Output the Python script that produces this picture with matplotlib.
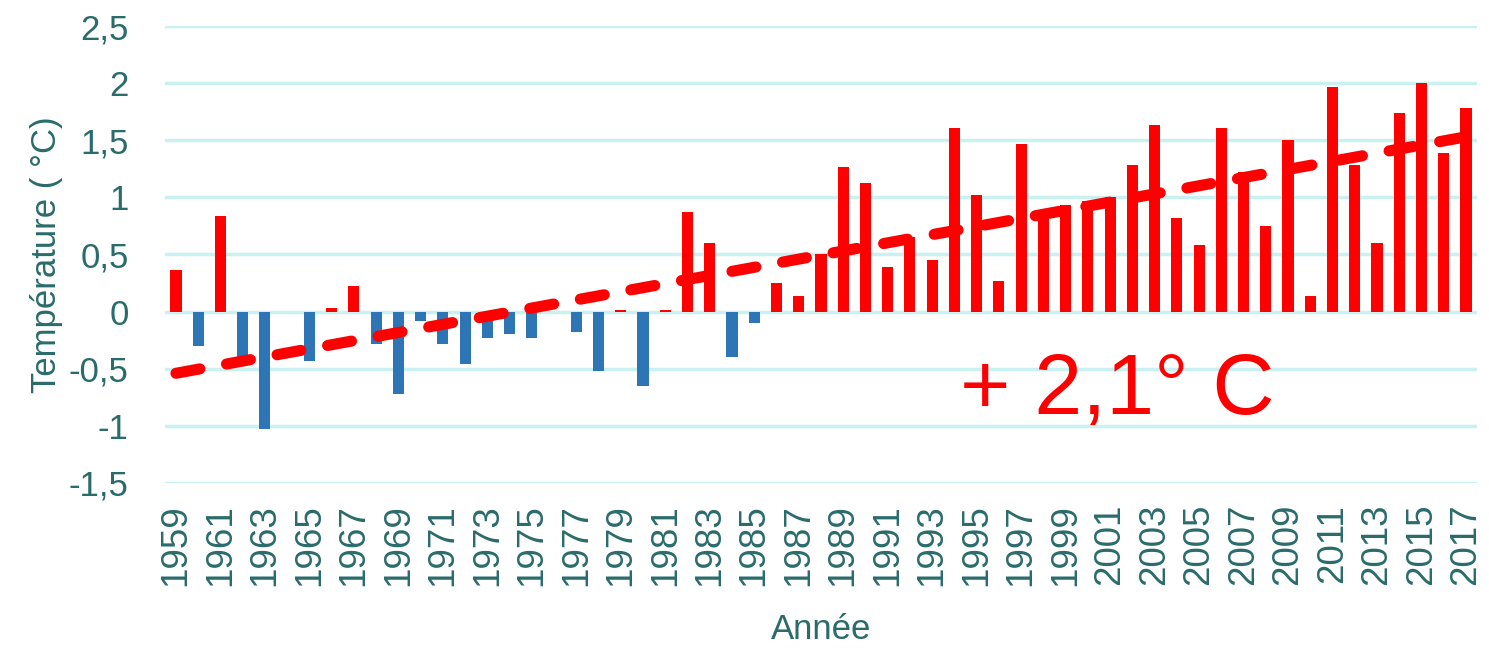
import numpy as np
import matplotlib
matplotlib.use("Agg")
import matplotlib.pyplot as plt

plt.rcParams['font.family'] = ['Liberation Sans', 'DejaVu Sans']
plt.rcParams['lines.scale_dashes'] = False

# anomalies de température (°C)
years = np.arange(1959, 2018)
anomalies = [
    0.36, -0.30, 0.84, -0.40, -1.03, 0.00, -0.43, 0.03, 0.22, -0.28,   # 1959-1968
    -0.72, -0.08, -0.28, -0.46, -0.23, -0.20, -0.23, 0.00, -0.18, -0.52,  # 1969-1978
    0.01, -0.65, 0.01, 0.87, 0.60, -0.40, -0.10, 0.25, 0.14, 0.50,     # 1979-1988
    1.27, 1.13, 0.39, 0.65, 0.45, 1.61, 1.02, 0.27, 1.47, 0.87,        # 1989-1998
    0.93, 0.97, 1.00, 1.28, 1.63, 0.82, 0.58, 1.61, 1.22, 0.75,        # 1999-2008
    1.50, 0.14, 1.97, 1.28, 0.60, 1.74, 2.00, 1.39, 1.78,              # 2009-2017
]
trend_years = [1959, 2017]
trend_values = [-0.54, 1.53]
yticks = [-1.5, -1, -0.5, 0, 0.5, 1, 1.5, 2, 2.5]
ytick_labels = ['-1,5', '-1', '-0,5', '0', '0,5', '1', '1,5', '2', '2,5']
annotation = '+ 2,1° C'

RED = '#FF0000'
BLUE = '#2E75B6'
TXT = '#2A6B6B'
GRID = '#C9F1F1'

vals = np.array(anomalies)
colors = [RED if v >= 0 else BLUE for v in vals]

fig = plt.figure(figsize=(14.89, 6.5), dpi=100)
ax = fig.add_axes([0.1107, 0.257, 0.8813, 0.703])

ax.bar(years, vals, width=0.5, color=colors, zorder=2)
ax.plot(trend_years, trend_values, color=RED, lw=8, dashes=(17.5, 19.5),
        dash_capstyle='round', solid_capstyle='round', zorder=3)

ax.set_xlim(1958.5, 2017.5)
ax.set_ylim(-1.5, 2.5)
ax.set_yticks(yticks)
ax.set_yticklabels(ytick_labels)
ax.set_xticks(years[::2])
ax.set_xticklabels([str(y) for y in years[::2]], rotation=90)

ax.grid(axis='y', color=GRID, lw=2.5, zorder=0)
ax.set_axisbelow(True)
for s in ax.spines.values():
    s.set_visible(False)
ax.tick_params(axis='both', length=0, labelcolor=TXT)
ax.tick_params(axis='y', pad=26, labelsize=25)
ax.tick_params(axis='x', pad=15, labelsize=26.5)

ax.set_ylabel('Température ( °C)', fontsize=25, color=TXT, labelpad=4)
ax.set_xlabel('Année', fontsize=25, color=TXT, labelpad=20)

ax.text(2001.3, -0.7, annotation, color=RED, fontsize=62, ha='center', va='center')

fig.savefig('out.png', dpi=100)
